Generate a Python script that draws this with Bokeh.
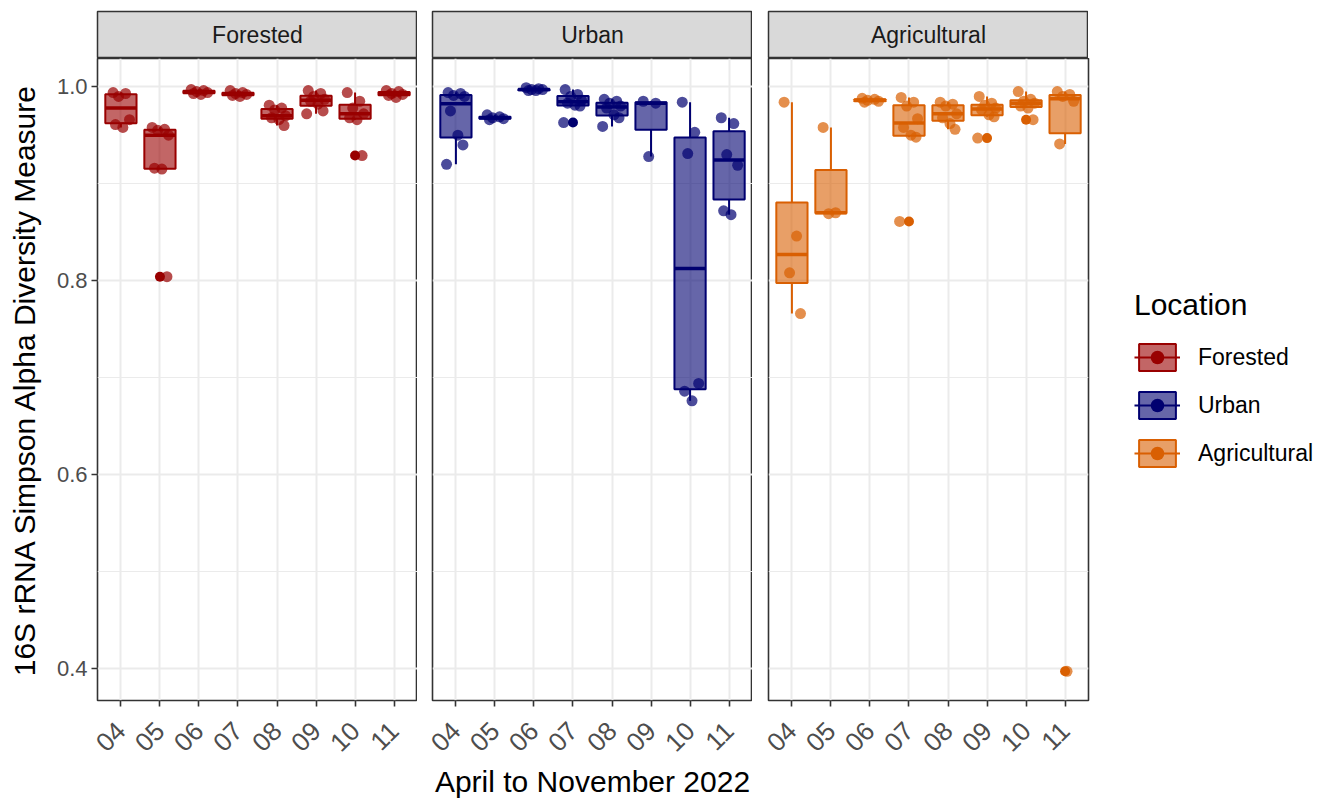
import math
import numpy as np
from bokeh.plotting import figure
from bokeh.layouts import row, column
from bokeh.models import (Range1d, FixedTicker, LinearAxis, Grid, PrintfTickFormatter,
                          ColumnDataSource, Legend, LegendItem, Label)
from bokeh.embed import file_html
from bokeh.resources import INLINE

# ---- data: Simpson diversity per sample, grouped by month (04..11) ----
months = ["04", "05", "06", "07", "08", "09", "10", "11"]
locations = ["Forested", "Urban", "Agricultural"]
colors = ["#990000", "#000070", "#D95F02"]

forested = [
    [0.994, 0.993, 0.990, 0.966, 0.961, 0.958],
    [0.958, 0.956, 0.955, 0.950, 0.916, 0.915, 0.804],
    [0.997, 0.996, 0.995, 0.994, 0.993, 0.992],
    [0.996, 0.994, 0.993, 0.992, 0.991, 0.990],
    [0.981, 0.978, 0.976, 0.970, 0.968, 0.966, 0.960],
    [0.996, 0.993, 0.990, 0.987, 0.985, 0.982, 0.975, 0.972],
    [0.994, 0.985, 0.978, 0.972, 0.968, 0.966, 0.929],
    [0.996, 0.995, 0.993, 0.992, 0.991, 0.989],
]
urban = [
    [0.994, 0.993, 0.991, 0.990, 0.975, 0.950, 0.940, 0.920],
    [0.971, 0.969, 0.968, 0.967, 0.966],
    [0.999, 0.998, 0.997, 0.997, 0.996, 0.996],
    [0.997, 0.992, 0.990, 0.986, 0.983, 0.981, 0.980, 0.963],
    [0.987, 0.985, 0.983, 0.980, 0.978, 0.971, 0.968, 0.959],
    [0.985, 0.983, 0.928],
    [0.984, 0.953, 0.931, 0.694, 0.686, 0.676],
    [0.968, 0.962, 0.930, 0.919, 0.872, 0.868],
]
agricultural = [
    [0.984, 0.846, 0.808, 0.766],
    [0.958, 0.870, 0.869],
    [0.988, 0.987, 0.986, 0.985, 0.984],
    [0.989, 0.984, 0.980, 0.967, 0.958, 0.950, 0.948, 0.861],
    [0.984, 0.982, 0.980, 0.972, 0.968, 0.962, 0.956],
    [0.990, 0.983, 0.981, 0.978, 0.976, 0.971, 0.969, 0.947],
    [0.995, 0.987, 0.985, 0.983, 0.980, 0.978, 0.966],
    [0.995, 0.992, 0.990, 0.985, 0.941, 0.397],
]
groups = [forested, urban, agricultural]

# fixed horizontal spread for the jittered points (category units)
jitter = [-0.20, 0.12, -0.06, 0.22, -0.14, 0.05, 0.18, -0.24]

y_ticks = [0.4, 0.6, 0.8, 1.0]
y_minor = [0.5, 0.7, 0.9]

FONT = "Liberation Sans"
FRAME_W, FRAME_H = 320, 642
BOTTOM = 99
xs = list(range(1, len(months) + 1))

all_vals = np.concatenate([np.concatenate([np.asarray(g) for g in grp]) for grp in groups])
span = all_vals.max() - all_vals.min()
y_lo, y_hi = all_vals.min() - 0.05 * span, all_vals.max() + 0.05 * span


def box_stats(vals):
    v = np.asarray(vals, dtype=float)
    q1, med, q3 = np.percentile(v, [25, 50, 75])
    iqr = q3 - q1
    lo_f, hi_f = q1 - 1.5 * iqr, q3 + 1.5 * iqr
    inside = v[(v >= lo_f) & (v <= hi_f)]
    out = v[(v < lo_f) | (v > hi_f)]
    return q1, med, q3, inside.min(), inside.max(), out


def strip(title, left):
    s = figure(frame_width=FRAME_W, frame_height=47, x_range=Range1d(0, 1), y_range=Range1d(0, 1),
               x_axis_location=None, y_axis_location=None, toolbar_location=None,
               output_backend="svg", min_border_top=11, min_border_bottom=0,
               min_border_left=left, min_border_right=0)
    s.center = [r for r in s.center if not isinstance(r, Grid)]
    s.background_fill_color = "#D9D9D9"
    s.border_fill_color = "white"
    s.outline_line_color = "#333333"
    s.outline_line_width = 1.5
    s.add_layout(Label(x=0.5, y=0.5, text=title, text_align="center", text_baseline="middle",
                       text_font=FONT, text_font_size="23px", text_color="#1A1A1A"))
    return s


def panel(k, left, right, ylab=False, xlab=None):
    p = figure(frame_width=FRAME_W, frame_height=FRAME_H,
               x_range=Range1d(0.4, len(months) + 0.6), y_range=Range1d(y_lo, y_hi),
               x_axis_location=None, y_axis_location=None, toolbar_location=None,
               output_backend="svg", min_border_top=0, min_border_bottom=BOTTOM,
               min_border_left=left, min_border_right=right)
    p.center = [r for r in p.center if not isinstance(r, Grid)]
    p.background_fill_color = "white"
    p.border_fill_color = "white"
    p.outline_line_color = "#333333"
    p.outline_line_width = 1.6

    p.add_layout(Grid(dimension=0, ticker=FixedTicker(ticks=xs),
                      grid_line_color="#EBEBEB", grid_line_width=2))
    p.add_layout(Grid(dimension=1, ticker=FixedTicker(ticks=y_ticks, minor_ticks=y_minor),
                      grid_line_color="#EBEBEB", grid_line_width=2,
                      minor_grid_line_color="#EBEBEB", minor_grid_line_width=1))

    xa = LinearAxis(ticker=FixedTicker(ticks=xs, minor_ticks=[]),
                    major_label_overrides={float(x): m for x, m in zip(xs, months)},
                    major_label_orientation=math.pi / 4,
                    major_label_text_font=FONT, major_label_text_font_size="26px",
                    major_label_text_color="#4D4D4D", major_label_standoff=20,
                    axis_line_color=None, major_tick_line_color="#333333",
                    major_tick_line_width=1.6, major_tick_out=6, major_tick_in=0,
                    minor_tick_line_color=None)
    if xlab:
        xa.axis_label = xlab
        xa.axis_label_text_font = FONT
        xa.axis_label_text_font_size = "30px"
        xa.axis_label_text_font_style = "normal"
        xa.axis_label_text_color = "black"
        xa.axis_label_standoff = 2
    p.add_layout(xa, "below")

    if ylab:
        ya = LinearAxis(ticker=FixedTicker(ticks=y_ticks, minor_ticks=[]),
                        formatter=PrintfTickFormatter(format="%.1f"),
                        major_label_text_font=FONT, major_label_text_font_size="22px",
                        major_label_text_color="#4D4D4D", major_label_standoff=4,
                        axis_line_color=None, major_tick_line_color="#333333",
                        major_tick_line_width=1.6, major_tick_out=6, major_tick_in=0,
                        minor_tick_line_color=None,
                        axis_label=ylab, axis_label_text_font=FONT,
                        axis_label_text_font_size="30px", axis_label_text_font_style="normal",
                        axis_label_text_color="black", axis_label_standoff=13)
        p.add_layout(ya, "left")

    col = colors[k]
    grp = groups[k]
    bx = dict(x=[], q1=[], q3=[], med=[], lo=[], hi=[], x0=[], x1=[])
    pts = dict(x=[], y=[])
    outs = dict(x=[], y=[])
    for x, vals in zip(xs, grp):
        q1, med, q3, lo, hi, out = box_stats(vals)
        for key, v in zip(["x", "q1", "q3", "med", "lo", "hi", "x0", "x1"],
                          [x, q1, q3, med, lo, hi, x - 0.4, x + 0.4]):
            bx[key].append(v)
        for o in out:
            outs["x"].append(x)
            outs["y"].append(o)
        for i, v in enumerate(vals):
            pts["x"].append(x + jitter[i % len(jitter)])
            pts["y"].append(v)
    bsrc = ColumnDataSource(bx)
    p.segment(x0="x", y0="q3", x1="x", y1="hi", source=bsrc, line_color=col, line_width=2)
    p.segment(x0="x", y0="q1", x1="x", y1="lo", source=bsrc, line_color=col, line_width=2)
    p.vbar(x="x", bottom="q1", top="q3", width=0.8, source=bsrc, fill_color=col, fill_alpha=0.6,
           line_color=col, line_width=2)
    p.segment(x0="x0", y0="med", x1="x1", y1="med", source=bsrc, line_color=col, line_width=3.5)
    p.scatter(x="x", y="y", source=ColumnDataSource(outs), size=10, fill_color=col,
              line_color=None, fill_alpha=1.0)
    p.scatter(x="x", y="y", source=ColumnDataSource(pts), size=11, fill_color=col,
              line_color=None, fill_alpha=0.7)
    return p


p1 = panel(0, 97, 0, ylab="16S rRNA Simpson Alpha Diversity Measure")
p2 = panel(1, 15, 0, xlab="April to November 2022")
p3 = panel(2, 16, 243)

# legend keys (box + median + point), one per location; the key renderers hold
# a single undefined row so that nothing shows inside the panel itself
nan = float("nan")
items = []
for loc, col in zip(locations, colors):
    src = ColumnDataSource(dict(x=[nan], b=[nan], t=[nan], x0=[nan], x1=[nan], y=[nan]))
    r_box = p3.vbar(x="x", bottom="b", top="t", width=0.8, source=src, fill_color=col,
                    fill_alpha=0.6, line_color=col, line_width=2)
    r_med = p3.segment(x0="x0", y0="y", x1="x1", y1="y", source=src, line_color=col, line_width=2)
    r_pt = p3.scatter(x="x", y="y", source=src, size=11, fill_color=col, line_color=None)
    items.append(LegendItem(label=loc, renderers=[r_box, r_med, r_pt], index=0))

legend = Legend(items=items, title="Location", location="center_left",
                title_text_font=FONT, title_text_font_size="30px", title_text_font_style="normal",
                title_text_color="black", title_standoff=18,
                label_text_font=FONT, label_text_font_size="23px", label_text_color="black",
                glyph_width=46, glyph_height=34, spacing=14, label_standoff=18,
                padding=10, margin=46, border_line_color=None, background_fill_alpha=0)
p3.add_layout(legend, "right")

s1 = strip("Forested", 97)
s2 = strip("Urban", 15)
s3 = strip("Agricultural", 16)

layout = row(column(s1, p1), column(s2, p2), column(s3, p3))

open("out.html", "w").write(file_html(layout, INLINE))
